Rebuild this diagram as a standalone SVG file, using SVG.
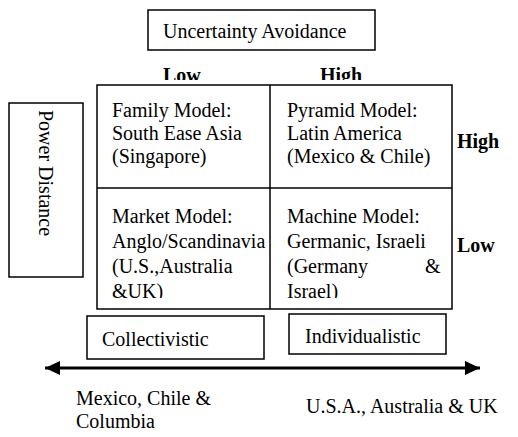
<svg xmlns="http://www.w3.org/2000/svg" width="518" height="437" viewBox="0 0 518 437">
<style>
text{font-family:"Liberation Serif","Times New Roman",serif;font-size:20px;fill:#000}
.b{font-weight:bold}
.box{fill:#fff;stroke:#000;stroke-width:1.5}
.ln{stroke:#000;stroke-width:1.5;fill:none}
</style>
<defs>
<clipPath id="topclip"><rect x="0" y="0" width="518" height="80"/></clipPath>
<clipPath id="blclip"><rect x="97" y="189" width="173" height="109"/></clipPath>
<clipPath id="brclip"><rect x="270" y="189" width="182" height="109"/></clipPath>
<marker id="ah" viewBox="0 0 15 14" refX="15" refY="7" markerWidth="15" markerHeight="14" markerUnits="userSpaceOnUse" orient="auto-start-reverse"><path d="M0,0 L15,7 L0,14 Z" fill="#000"/></marker>
</defs>
<rect width="518" height="437" fill="#fff"/>
<g id="uncertainty">
<rect class="box" x="148" y="10" width="227" height="40"/>
<text x="163" y="38">Uncertainty Avoidance</text>
</g>
<g id="ua-levels" clip-path="url(#topclip)">
<text class="b" x="163" y="82">Low</text>
<text class="b" x="320" y="82">High</text>
</g>
<g id="power-distance">
<rect class="box" x="9" y="103" width="74" height="174"/>
<text transform="translate(39,110) rotate(90)">Power Distance</text>
</g>
<g id="grid">
<rect class="box" x="97" y="85" width="355" height="224"/>
<line class="ln" x1="270" y1="85" x2="270" y2="309"/>
<line class="ln" x1="97" y1="188" x2="452" y2="188"/>
</g>
<g id="family">
<text x="112" y="117">Family Model:</text>
<text x="112" y="140">South Ease Asia</text>
<text x="112" y="163">(Singapore)</text>
</g>
<g id="pyramid">
<text x="287" y="117">Pyramid Model:</text>
<text x="287" y="140">Latin America</text>
<text x="287" y="163">(Mexico &amp; Chile)</text>
</g>
<g id="market" clip-path="url(#blclip)">
<text x="112" y="223">Market Model:</text>
<text x="112" y="248">Anglo/Scandinavia</text>
<text x="112" y="273">(U.S.,Australia</text>
<text x="112" y="298">&amp;UK)</text>
</g>
<g id="machine" clip-path="url(#brclip)">
<text x="287" y="223">Machine Model:</text>
<text x="287" y="248">Germanic, Israeli</text>
<text x="287" y="273">(Germany</text>
<text x="425" y="273">&amp;</text>
<text x="287" y="298">Israel)</text>
</g>
<g id="pd-levels">
<text class="b" x="457" y="148">High</text>
<text class="b" x="457" y="252">Low</text>
</g>
<g id="collectivistic">
<rect class="box" x="87" y="316" width="177" height="43"/>
<text x="102" y="346">Collectivistic</text>
</g>
<g id="individualistic">
<rect class="box" x="289" y="314" width="157" height="40"/>
<text x="305" y="343">Individualistic</text>
</g>
<g id="connectors">
<line x1="45" y1="368" x2="480" y2="368" stroke="#000" stroke-width="3" marker-start="url(#ah)" marker-end="url(#ah)"/>
</g>
<g id="countries">
<text x="76" y="405">Mexico, Chile &amp;</text>
<text x="76" y="428">Columbia</text>
<text x="306" y="413">U.S.A., Australia &amp; UK</text>
</g>
</svg>
